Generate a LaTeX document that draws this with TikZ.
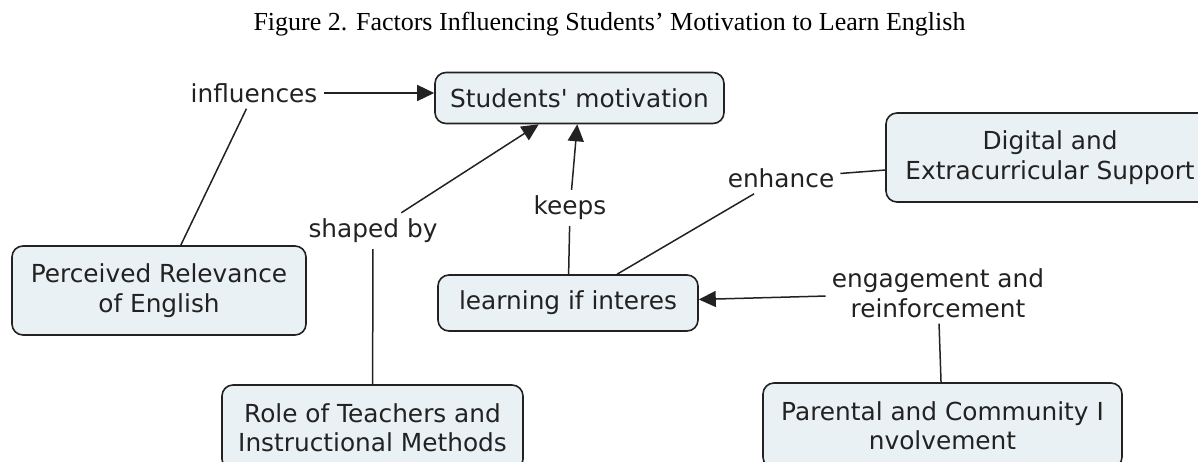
\documentclass[tikz,border=0pt]{standalone}
\usepackage{fontspec}
\setmainfont{Liberation Serif}
\newfontfamily\mapfont{DejaVu Sans}
\usetikzlibrary{arrows.meta}

\definecolor{boxfill}{HTML}{E9F1F4}
\definecolor{ink}{HTML}{222222}
\newcommand\mapsize{\mapfont\fontsize{24.8}{29.5}\selectfont}

\begin{document}
\begin{tikzpicture} [x=1pt, y=-1pt,
                     concept/.style={draw=ink, line width=1.6pt, fill=boxfill, rounded corners=11pt,
                                     align=center, text=ink, font=\mapsize, inner sep=0pt},
                     phrase/.style={text=ink, align=center, font=\mapsize, inner sep=6pt},
                     link/.style={draw=ink, line width=1.5pt},
                     arrowlink/.style={link, -{Triangle[length=17pt, width=16pt]}}]
    \useasboundingbox (0,0) rectangle (1198,461);
    \clip (0,0) rectangle (1198,461);

    \node (title) at (609.5,24) {\fontsize{26}{30}\selectfont Figure 2. Factors Influencing Students’ Motivation to Learn English};

    % concepts
    \node[concept, minimum width=289pt, minimum height=51pt] (motiv) at (579.5,98) {Students\textquotesingle{} motivation};
    \node[concept, minimum width=294pt, minimum height=89pt] (perc) at (159,290.5) {Perceived Relevance\\of English};
    \node[concept, minimum width=260pt, minimum height=56pt] (learn) at (568,303) {learning if interes};
    \node[concept, minimum width=328pt, minimum height=89pt] (digital) at (1050,157.5) {Digital and\\Extracurricular Support};
    \node[concept, minimum width=301pt, minimum height=85pt] (role) at (372.5,427.5) {Role of Teachers and\\Instructional Methods};
    \node[concept, minimum width=359pt, minimum height=85pt] (parent) at (942.5,425.5) {Parental and Community I\\nvolvement};

    % linking phrases
    \node[phrase] (infl) at (254,93) {influences};
    \node[phrase] (shaped) at (373,231) {shaped by};
    \node[phrase] (keeps) at (570,208) {keeps};
    \node[phrase] (enh) at (781,178) {enhance};
    \node[phrase] (engage) at (938,293) {engagement and\\reinforcement};

    \draw[link] (perc) -- (infl);
    \draw[arrowlink] (infl) -- (infl -| motiv.west);
    \draw[link] (role) -- (shaped);
    \draw[arrowlink] (shaped) -- (motiv);
    \draw[link] (learn) -- (keeps);
    \draw[arrowlink] (keeps) -- (motiv);
    \draw[link] (learn) -- (enh);
    \draw[link] (enh) -- (digital);
    \draw[link] (parent) -- (engage);
    \draw[arrowlink] (engage) -- (learn);

\end{tikzpicture}
\end{document}
